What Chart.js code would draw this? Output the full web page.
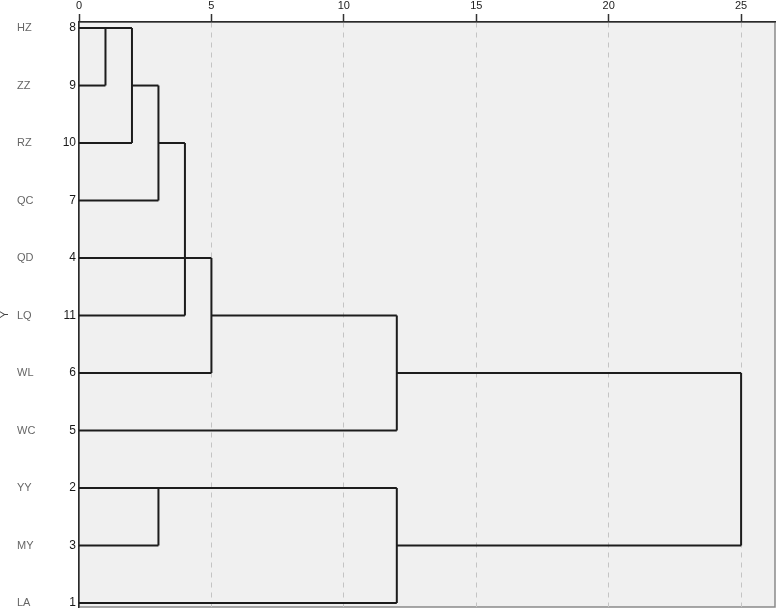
<!DOCTYPE html>
<html>
<head>
<meta charset="utf-8">
<script src="https://cdn.jsdelivr.net/npm/chart.js@4.4.1/dist/chart.umd.min.js"></script>
<style>
body { margin: 0; background: #fff; }
#box { width: 778px; height: 611px; }
</style>
</head>
<body>
<div id="box"><canvas id="canvas"></canvas></div>
<script>
// leaves, top to bottom
const leafNames = ['HZ', 'ZZ', 'RZ', 'QC', 'QD', 'LQ', 'WL', 'WC', 'YY', 'MY', 'LA'];
const leafIds = ['8', '9', '10', '7', '4', '11', '6', '5', '2', '3', '1'];
const leafEnds = [2, 1, 2, 3, 5, 4, 5, 12, 12, 3, 12];
// vertical joins (distance, from row, to row)
const joinHeights = [1, 2, 3, 4, 5, 12, 3, 12, 25];
const joinTops = [0, 0, 1, 2, 4, 5, 8, 8, 6];
const joinBottoms = [1, 2, 3, 5, 6, 7, 9, 10, 9];
// horizontal links between joins
const linkRows = [1, 2, 5, 6, 9];
const linkStarts = [2, 3, 5, 12, 12];
const linkEnds = [3, 4, 12, 25, 25];
const xTicks = [0, 5, 10, 15, 20, 25];

var datasets = [];
function seg(x1, y1, x2, y2) {
    datasets.push({
        data: [{x: x1, y: y1}, {x: x2, y: y2}],
        showLine: true,
        borderColor: '#1c1c1c',
        borderWidth: 2,
        pointRadius: 0,
        fill: false
    });
}
for (var i = 0; i < leafNames.length; i++) {
    seg(0, i, leafEnds[i], i);
}
for (var j = 0; j < joinHeights.length; j++) {
    seg(joinHeights[j], joinTops[j], joinHeights[j], joinBottoms[j]);
}
for (var k = 0; k < linkRows.length; k++) {
    seg(linkStarts[k], linkRows[k], linkEnds[k], linkRows[k]);
}

// grey panel + frame
const panel = {
    id: 'panel',
    beforeDraw(chart) {
        var a = chart.chartArea;
        var c = chart.ctx;
        c.save();
        c.fillStyle = '#f0f0f0';
        c.fillRect(a.left, a.top, a.right - a.left, a.bottom - a.top);
        c.strokeStyle = '#8a8a8a';
        c.lineWidth = 1.5;
        c.strokeRect(a.left, a.top, a.right - a.left, a.bottom - a.top);
        c.restore();
    }
};

function rowTicks(scale) {
    scale.ticks = leafNames.map(function (n, i) { return {value: i}; });
}
function noPad(scale, w) {
    scale.width = w;
    scale.paddingTop = 0;
    scale.paddingBottom = 0;
}

const config = {
    type: 'scatter',
    data: {datasets: datasets},
    options: {
        responsive: true,
        maintainAspectRatio: false,
        animation: false,
        layout: {padding: {top: 0, right: 3, bottom: 4, left: 0}},
        plugins: {legend: {display: false}, tooltip: {enabled: false}},
        scales: {
            x: {
                type: 'linear',
                position: 'top',
                min: 0,
                max: 26.28,
                afterBuildTicks: function (scale) {
                    scale.ticks = xTicks.map(function (v) { return {value: v}; });
                },
                afterFit: function (scale) { scale.height = 22; },
                grid: {
                    color: function (ctx) { return ctx.tick && ctx.tick.value === 0 ? 'rgba(0,0,0,0)' : '#c4c4c4'; },
                    lineWidth: 1,
                    tickLength: 8,
                    tickColor: '#333',
                    tickWidth: 1.5
                },
                border: {display: true, color: '#2a2a2a', width: 1.5, dash: [5, 5]},
                ticks: {
                    color: '#222',
                    padding: 1,
                    maxRotation: 0,
                    font: {family: 'Liberation Sans', size: 11}
                }
            },
            y: {
                type: 'linear',
                position: 'left',
                reverse: true,
                min: -0.105,
                max: 10.07,
                weight: 0,
                afterBuildTicks: rowTicks,
                afterFit: function (scale) { noPad(scale, 29); },
                grid: {display: false, drawTicks: false},
                border: {display: true, color: '#2a2a2a', width: 1.5},
                ticks: {
                    color: '#1a1a1a',
                    padding: 3,
                    crossAlign: 'near',
                    font: {family: 'Liberation Sans', size: 12},
                    callback: function (v) { return leafIds[v]; }
                }
            },
            yNames: {
                type: 'linear',
                position: 'left',
                reverse: true,
                min: -0.105,
                max: 10.07,
                weight: 1,
                afterBuildTicks: rowTicks,
                afterFit: function (scale) { noPad(scale, 33); },
                grid: {display: false, drawTicks: false},
                border: {display: false},
                ticks: {
                    color: '#666',
                    padding: 0,
                    crossAlign: 'far',
                    font: {family: 'Liberation Sans', size: 11},
                    callback: function (v) { return leafNames[v]; }
                }
            },
            yTitle: {
                type: 'linear',
                position: 'left',
                reverse: true,
                min: -0.105,
                max: 10.07,
                weight: 2,
                afterFit: function (scale) { noPad(scale, 17); },
                grid: {display: false, drawTicks: false},
                border: {display: false},
                ticks: {display: false},
                title: {
                    display: true,
                    text: 'Y',
                    color: '#444',
                    padding: {top: -2, bottom: 0},
                    font: {family: 'Liberation Sans', size: 11}
                }
            }
        }
    },
    plugins: [panel]
};

const canvas = document.getElementById('canvas');
const chart = new Chart(canvas, config);
</script>
</body>
</html>
